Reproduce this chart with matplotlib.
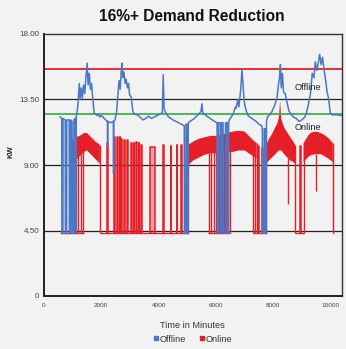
import numpy as np
import matplotlib
matplotlib.use("Agg")
import matplotlib.pyplot as plt
from matplotlib import font_manager
from matplotlib.lines import Line2D

nan = np.nan

# ---- Offline (baseline) demand, kW vs minutes ----
offline_t = [
    560, 620, 625, 660, 665, 740, 745, 790, 795, 880, 885, 930, 935, 980, 985, 1040, 1045, 1080, 1085, 1120, 1125,
    1180, 1230, 1260, 1300, 1340, 1380, 1420, 1470, 1505, 1540, 1580, 1620, 1660, 1700, 1750,
    1800, 1850, 1900, 1950, 2000, 2100, 2200, 2215, 2220, 2225, 2320, 2420, 2428, 2436, 2480,
    2530, 2580, 2620, 2660, 2690, 2720, 2750, 2790, 2830, 2870, 2910, 2950, 2990, 3040, 3100,
    3150, 3250, 3350, 3450, 3550, 3650, 3750, 3850, 3950, 4050, 4130, 4160, 4190, 4240, 4350, 4500, 4650, 4800, 4895,
    4900, 4950, 4955, 4990, 4995, 5030, 5035,
    5100, 5250, 5400, 5480, 5510, 5540, 5650, 5800, 5950, 6040,
    6045, 6080, 6085, 6150, 6155, 6190, 6195, 6250, 6255, 6330, 6335, 6390, 6395, 6440, 6445,
    6500, 6600, 6680, 6710, 6760, 6800, 6830, 6870, 6910, 6940, 6970, 7000, 7060, 7120, 7250, 7400, 7500, 7600,
    7620, 7625, 7680, 7685, 7720, 7725, 7760, 7765,
    7800, 7900, 7960, 8050, 8130, 8180, 8220, 8250, 8280, 8320, 8360, 8420, 8480, 8550, 8620,
    8700, 8800, 8900, 9000, 9100, 9150,
    9220, 9300, 9360, 9420, 9470, 9520, 9570, 9620, 9670, 9720, 9770, 9830, 9880, 9930, 9990, 10050, 10200, 10400,
]
offline_kw = [
    12.3, 12.2, 4.3, 4.3, 12.2, 12.1, 4.3, 4.3, 12.1, 12.1, 4.3, 4.3, 12.1, 12.0, 4.3, 4.3, 12.1, 12.2, 4.4, 4.4, 12.3,
    13.0, 14.6, 13.5, 14.3, 13.6, 14.5, 13.9, 15.2, 16.0, 14.5, 15.3, 14.2, 14.6, 13.6, 12.6,
    12.5, 12.4, 12.5, 12.3, 12.4, 12.2, 12.0, 12.0, 10.3, 12.0, 11.9, 12.0, 8.4, 12.0, 12.1,
    12.6, 13.8, 14.8, 14.2, 15.3, 16.0, 15.0, 15.4, 14.6, 14.9, 14.3, 14.6, 13.8, 13.7, 12.7,
    12.5, 12.45, 12.3, 12.1, 12.2, 12.35, 12.2, 12.3, 12.4, 12.5, 12.6, 15.2, 12.9, 12.6, 12.3, 12.1, 11.95, 11.8, 11.7,
    4.3, 4.3, 11.8, 11.8, 4.3, 4.3, 11.9,
    12.0, 12.2, 12.5, 12.7, 13.2, 12.6, 12.4, 12.2, 12.0, 11.9,
    4.3, 4.3, 11.9, 11.9, 4.3, 4.3, 11.9, 11.9, 4.3, 4.3, 11.9, 11.9, 4.3, 4.3, 12.0,
    12.2, 12.5, 13.0, 12.9, 13.5, 13.0, 13.5, 14.3, 15.6, 14.7, 13.8, 13.2, 12.7, 12.4, 12.2, 12.0, 11.8, 11.7,
    11.4, 4.3, 4.3, 11.5, 11.5, 4.3, 4.3, 12.0,
    12.3, 12.5, 12.7, 13.1, 13.6, 14.5, 15.0, 15.9, 14.3, 15.3, 14.0, 13.9, 13.3, 12.7, 12.5,
    12.3, 12.2, 12.0, 12.1, 12.3, 12.5,
    13.1, 13.9, 15.3, 15.0, 16.1, 15.5, 16.0, 16.6, 15.9, 16.4, 15.6, 14.8, 14.0, 13.6, 12.6, 12.45, 12.45, 12.4,
]

# ---- Online (controlled) demand ----
online_floor = 4.3
online_floor_from = [575, 1950, 5740, 7300, 8750, 10080]
online_floor_to = [1380, 5050, 6480, 7770, 9060, 10110]

# cycling envelope while the load runs (NaN separates runs)
online_band_t = [985, 1100, 1250, 1400, 1500, 1650, 1800, 1950, nan,
                 5040, 5200, 5400, 5600, 5800, 6000, 6200, 6400, 6600, 6800, 7000, 7150, 7300, 7420, nan,
                 7760, 7850, 7950, 8050, 8150, 8200, 8240, 8280, 8320, 8400, 8500, 8600, 8700, 8760, nan,
                 9060, 9150, 9250, 9350, 9500, 9650, 9800, 9950, 10080]
online_band_hi = [10.7, 10.9, 11.0, 11.2, 11.2, 10.9, 10.6, 10.4, nan,
                  10.4, 10.6, 10.8, 10.9, 11.0, 11.0, 11.1, 11.2, 11.3, 11.35, 11.3, 11.0, 10.7, 10.5, nan,
                  10.4, 10.8, 11.1, 11.5, 11.9, 12.3, 13.4, 12.2, 11.9, 11.5, 11.2, 10.9, 10.6, 10.4, nan,
                  10.5, 10.8, 11.1, 11.25, 11.3, 11.2, 11.05, 10.8, 10.5]
online_band_lo = [9.1, 9.3, 9.6, 9.9, 10.0, 9.7, 9.4, 9.1, nan,
                  9.0, 9.3, 9.5, 9.7, 9.8, 9.8, 9.8, 9.9, 9.9, 10.0, 10.0, 9.8, 9.6, 9.4, nan,
                  9.1, 9.3, 9.5, 9.7, 9.9, 10.0, 10.0, 10.0, 9.9, 9.7, 9.5, 9.3, 9.2, 9.1, nan,
                  9.2, 9.4, 9.6, 9.7, 9.75, 9.75, 9.6, 9.4, 9.2]

# short shut-offs inside the running periods
online_dip_t = [985, 1040, 1100, 1200, 1290, 1370, 1950, 5040, 5750, 5830, 5920, 5990, 6100, 6210,
                6280, 6360, 6420, 6475, 7300, 7360, 7420, 7760, 8520, 8760, 9060, 9510, 10080]
online_dip_low = [4.3, 4.3, 4.3, 4.3, 4.3, 4.3, 4.3, 4.3, 4.3, 4.3, 4.3, 4.3, 4.3, 4.3,
                  4.3, 4.3, 4.3, 4.3, 4.3, 4.3, 4.3, 4.3, 6.3, 4.3, 4.3, 7.2, 4.3]
online_dip_high = [10.7, 10.8, 10.9, 11.0, 11.05, 11.15, 10.4, 10.4, 10.95, 11.0, 11.0, 11.0, 11.05, 11.1,
                   11.15, 11.2, 11.2, 11.25, 10.7, 10.6, 10.5, 10.4, 9.5, 10.4, 10.5, 9.75, 10.5]

# brief run periods while mostly off
online_pulse_from = [2190, 2450, 2540, 2640, 2700, 2800, 2880, 3050, 3130, 3220, 3300, 3400,
                     3700, 4160, 4420, 4630, 4770, 7470, 7600, 8940]
online_pulse_to = [2230, 2480, 2580, 2660, 2720, 2830, 2920, 3070, 3150, 3250, 3330, 3420,
                   3860, 4175, 4430, 4645, 4800, 7500, 7640, 8960]
online_pulse_top = [10.5, 10.9, 10.9, 10.9, 10.8, 10.7, 10.7, 10.5, 10.5, 10.6, 10.5, 10.4,
                    10.25, 10.35, 10.3, 10.4, 10.4, 10.3, 10.2, 10.3]

peak_limit = 15.6      # offline peak demand
target_limit = 12.5    # online target

x_ticks = [0, 2000, 4000, 6000, 8000, 10000]
y_ticks = [0, 4.5, 9.0, 13.5, 18.0]
y_tick_labels = ["0", "4.50", "9.00", "13.50", "18.00"]

BLUE = "#4a78c6"
RED = "#e51f27"
GREEN = "#3bb54a"
BG = "#f2f2f2"

names = {f.name for f in font_manager.fontManager.ttflist}
FONT = "Liberation Sans" if "Liberation Sans" in names else "DejaVu Sans"
plt.rcParams["font.family"] = FONT

fig = plt.figure(figsize=(3.46, 3.49), dpi=100, facecolor=BG)
ax = fig.add_axes([44 / 346, 53 / 349, 298 / 346, 262 / 349], facecolor=BG)

ax.set_xlim(0, 10400)
ax.set_ylim(0, 18)

for g in (4.5, 9.0, 13.5):
    ax.axhline(g, color="#222222", lw=0.9, zorder=1)

# online series
ax.hlines([online_floor] * len(online_floor_from), online_floor_from, online_floor_to,
          color=RED, lw=1.0, zorder=2)
ax.fill_between(online_band_t, online_band_lo, online_band_hi, color=RED, lw=0, zorder=2)
ax.vlines(online_dip_t, online_dip_low, online_dip_high, color=RED, lw=1.0, zorder=2)
for a, b, top in zip(online_pulse_from, online_pulse_to, online_pulse_top):
    ax.plot([a, a, b, b], [online_floor, top, top, online_floor], color=RED, lw=1.1, zorder=2)
    ax.fill_between([a, b], online_floor, top, color=RED, alpha=0.4, lw=0, zorder=2)

ax.axhline(peak_limit, color=RED, lw=1.3, zorder=2.5)
ax.axhline(target_limit, color=GREEN, lw=1.3, zorder=2.5)

# offline series
ax.plot(offline_t, offline_kw, color=BLUE, lw=1.1, zorder=3)

ax.text(8740, 14.35, "Offline", fontsize=6.7, color="#222222", ha="left", va="center", zorder=4)
ax.text(8740, 11.55, "Online", fontsize=6.7, color="#222222", ha="left", va="center", zorder=4)

ax.set_xticks(x_ticks)
ax.set_xticklabels([str(v) for v in x_ticks], fontsize=4.6, color="#444444")
ax.set_yticks(y_ticks)
ax.set_yticklabels(y_tick_labels, fontsize=5.8, color="#444444")
ax.tick_params(axis="both", length=0)
ax.tick_params(axis="x", pad=5)
ax.tick_params(axis="y", pad=3.5)

for side in ("left", "bottom"):
    ax.spines[side].set_color("#222222")
    ax.spines[side].set_linewidth(1.4)
for side in ("top", "right"):
    ax.spines[side].set_color("#333333")
    ax.spines[side].set_linewidth(1.0)

fig.text(0.553, 0.952, "16%+ Demand Reduction", fontsize=11.2, fontweight="bold",
         ha="center", va="center", color="#111111")
fig.text(10.7 / 346, 1 - 152 / 349, "KW", fontsize=5.5, fontweight="bold", rotation=90,
         ha="center", va="center", color="#222222")
fig.text(0.555, 1 - 325 / 349, "Time in Minutes", fontsize=6.6, ha="center", va="center",
         color="#333333")

handles = [Line2D([], [], ls="none", marker="s", markersize=3, color=BLUE, label="Offline"),
           Line2D([], [], ls="none", marker="s", markersize=3, color=RED, label="Online")]
fig.legend(handles=handles, loc="center", bbox_to_anchor=(0.557, 1 - 339 / 349), ncol=2,
           frameon=False, fontsize=6.6, handlelength=0.6, handletextpad=0.15,
           columnspacing=1.4, borderpad=0, labelcolor="#333333")

fig.savefig("out.png", dpi=100, facecolor=BG)
